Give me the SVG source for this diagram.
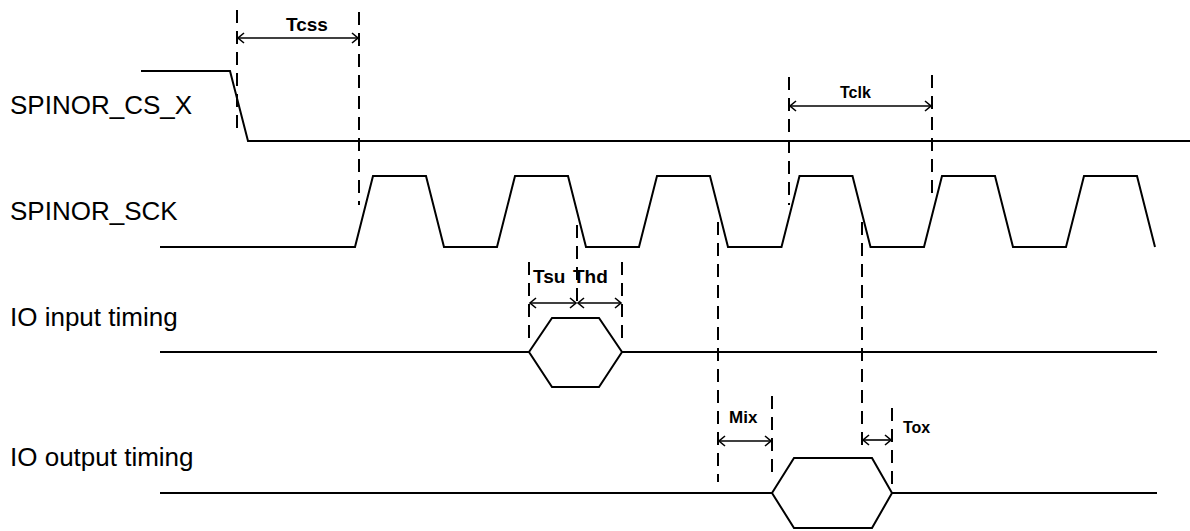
<svg xmlns="http://www.w3.org/2000/svg" width="1190" height="531" viewBox="0 0 1190 531">
<style>
.sig{fill:none;stroke:#000;stroke-width:2;stroke-linejoin:miter}
.dash{fill:none;stroke:#000;stroke-width:2;stroke-dasharray:13 8}
.dim{fill:none;stroke:#000;stroke-width:1.6;marker-start:url(#ah);marker-end:url(#ah)}
.lbl{font-family:"Liberation Sans",Arial,sans-serif;font-size:26px;fill:#000}
.tl{font-family:"Liberation Sans",Arial,sans-serif;font-weight:bold;fill:#000}
</style>
<defs>
<marker id="ah" viewBox="-8 -6 10 12" markerWidth="10" markerHeight="12" refX="0" refY="0" orient="auto-start-reverse" markerUnits="userSpaceOnUse">
<path d="M-6,-5 L0,0 L-6,5" fill="none" stroke="#000" stroke-width="1.6"/>
</marker>
</defs>
<rect width="1190" height="531" fill="#fff"/>
<g id="labels">
<text class="lbl" x="10" y="114">SPINOR_CS_X</text>
<text class="lbl" x="10" y="220">SPINOR_SCK</text>
<text class="lbl" x="10" y="326">IO input timing</text>
<text class="lbl" x="10" y="466">IO output timing</text>
</g>
<g id="sig-cs">
<path class="sig" d="M141,71 L230,71 L248,141 L1190,141"/>
</g>
<g id="sig-sck">
<path class="sig" d="M160,247 L355,247 L373,176 L426,176 L444,247 L497,247 L515,176 L568,176 L586,247 L639,247 L657,176 L710,176 L728,247 L781.5,247 L799.5,176 L852.5,176 L870.5,247 L924,247 L942,176 L995,176 L1013,247 L1066,247 L1084,176 L1137,176 L1155,247"/>
</g>
<g id="sig-in">
<path class="sig" d="M160,352 L529,352 M622,352 L1157,352"/>
<path class="sig" d="M529,352 L552,318 L599,318 L622,352 L599,387 L552,387 Z"/>
</g>
<g id="sig-out">
<path class="sig" d="M160,493 L772,493 M892,493 L1157,493"/>
<path class="sig" d="M772,493 L794,458 L872,458 L892,493 L872,528 L794,528 Z"/>
</g>
<g id="connectors">
<path class="dash" d="M237,10 V129"/>
<path class="dash" d="M359,12 V205"/>
<path class="dash" d="M789,77 V205"/>
<path class="dash" d="M932,75 V198"/>
<path class="dash" d="M577,225 V305"/>
<path class="dash" d="M529,262 V342"/>
<path class="dash" d="M622,262 V342"/>
<path class="dash" d="M718,222 V482"/>
<path class="dash" d="M772,396 V478"/>
<path class="dash" d="M862,222 V452"/>
<path class="dash" d="M892,408 V490"/>
<path class="dim" d="M238,38 H358"/>
<path class="dim" d="M790,106 H931"/>
<path class="dim" d="M530,303 H576"/>
<path class="dim" d="M578,303 H621"/>
<path class="dim" d="M719,441 H771"/>
<path class="dim" d="M863,440 H891"/>
</g>
<g id="dim-labels">
<text class="tl" x="286" y="31" font-size="19">Tcss</text>
<text class="tl" x="840" y="98" font-size="16">Tclk</text>
<text class="tl" x="533" y="283" font-size="19">Tsu</text>
<text class="tl" x="573" y="283" font-size="19">Thd</text>
<text class="tl" x="729" y="423" font-size="17">Mix</text>
<text class="tl" x="903" y="433" font-size="16">Tox</text>
</g>
</svg>
